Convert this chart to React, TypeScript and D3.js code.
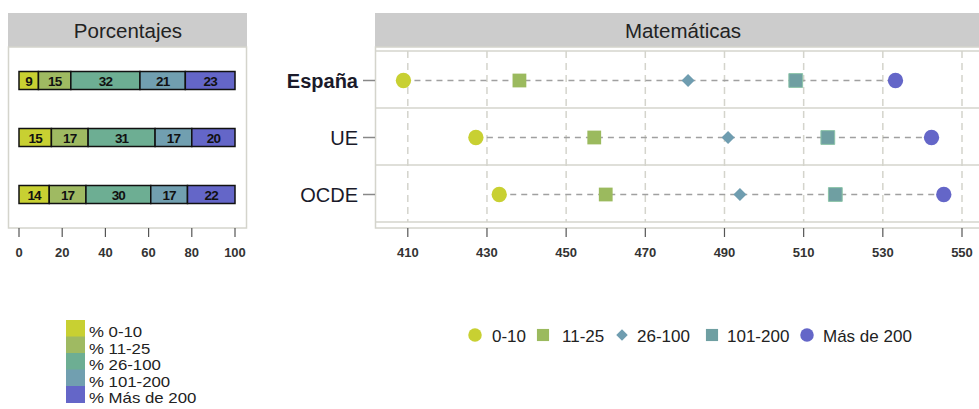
import React from 'react';
import { scaleLinear, scaleBand, symbol, symbolCircle, symbolSquare } from 'd3';

const regions = ['España', 'UE', 'OCDE'];
const groups = ['0-10', '11-25', '26-100', '101-200', 'Más de 200'];
const pctLegend = ['% 0-10', '% 11-25', '% 26-100', '% 101-200', '% Más de 200'];
const barColors = ['#C8D032', '#9FBA62', '#6DAE93', '#719FB0', '#6466C8'];
const dotColors = ['#C8D032', '#9BBA5E', '#6F9DB0', '#6F9FA2', '#6466C8'];

const pctEspana = [9, 15, 32, 21, 23];
const pctUE = [15, 17, 31, 17, 20];
const pctOCDE = [14, 17, 30, 17, 22];

const scoreEspana = [408.9, 438.2, 480.8, 508.0, 533.2];
const scoreUE = [427.2, 457.1, 490.9, 516.1, 542.3];
const scoreOCDE = [433.1, 460.0, 493.9, 518.0, 545.4];

const pctTicks = [0, 20, 40, 60, 80, 100];
const scoreTicks = [410, 430, 450, 470, 490, 510, 530, 550];

const pctRows = [pctEspana, pctUE, pctOCDE];
const scoreRows = [scoreEspana, scoreUE, scoreOCDE];

const FONT = 'Arial, "Liberation Sans", sans-serif';

// rhombus like R's pch 18 (a square turned 45 degrees)
const diamond = (h: number) => `M0,${-h}L${h},0L0,${h}L${-h},0Z`;

const shapeFor = (i: number, k = 1) => {
  if (i === 2) return diamond(6.5 * k);
  if (i === 1 || i === 3) return symbol(symbolSquare, 190 * k * k)()!;
  return symbol(symbolCircle, 185 * k * k)()!;
};

const App = () => {
  const width = 979;
  const height = 409;

  // left panel
  const lx = scaleLinear().domain([0, 100]).range([19, 235]);
  const rowY = scaleBand().domain(regions).range([51, 222]);
  const barH = 18;

  // right panel
  const rx = scaleLinear().domain([410, 550]).range([407.8, 962]);
  const rLeft = 375;
  const rRight = 992;

  return (
    <svg width={width} height={height} style={{ position: 'absolute', left: 0, top: 0 }} fontFamily={FONT}>
      <rect x={0} y={0} width={width} height={height} fill="#fff" />

      {/* Porcentajes */}
      <rect x={8} y={13} width={239} height={34} fill="#CCCCCC" />
      <text x={128} y={38} textAnchor="middle" fontSize={20.5} fill="#222">Porcentajes</text>
      <rect x={8.5} y={47} width={238} height={181} fill="none" stroke="#D4D4CC" strokeWidth={1.5} />
      {pctRows.map((row, r) => {
        const cy = rowY(regions[r])! + rowY.bandwidth() / 2 + 1;
        let acc = 0;
        return (
          <g key={r}>
            {row.map((v, i) => {
              const x0 = lx(acc);
              const x1 = lx(acc + v);
              acc += v;
              return (
                <g key={i}>
                  <rect x={x0} y={cy - barH / 2} width={x1 - x0} height={barH}
                    fill={barColors[i]} stroke="#111" strokeWidth={1.5} />
                  <text x={(x0 + x1) / 2} y={cy + 5} textAnchor="middle" fontSize={13.5}
                    fontWeight="bold" fill="#111" letterSpacing={-0.8}>{v}</text>
                </g>
              );
            })}
          </g>
        );
      })}
      {pctTicks.map(t => (
        <g key={t}>
          <line x1={lx(t)} x2={lx(t)} y1={228} y2={237} stroke="#555" strokeWidth={1.2} />
          <text x={lx(t)} y={257} textAnchor="middle" fontSize={13} fontWeight="bold" fill="#333">{t}</text>
        </g>
      ))}

      {/* Matemáticas */}
      <rect x={rLeft} y={13} width={rRight - rLeft} height={34} fill="#CCCCCC" />
      <text x={683} y={38} textAnchor="middle" fontSize={20.5} fill="#222">Matemáticas</text>
      <rect x={rLeft + 0.5} y={47} width={rRight - rLeft} height={181} fill="none" stroke="#D4D4CC" strokeWidth={1.5} />
      {[51, rowY('UE')!, rowY('OCDE')!, 222].map((y, i) => (
        <line key={i} x1={rLeft} x2={rRight} y1={y} y2={y} stroke="#D4D4CC" strokeWidth={1.5} />
      ))}
      {scoreTicks.map(t => (
        <g key={t}>
          <line x1={rx(t)} x2={rx(t)} y1={51} y2={222} stroke="#D4D4CC" strokeWidth={1.5} strokeDasharray="7,5" />
          <line x1={rx(t)} x2={rx(t)} y1={228} y2={237} stroke="#555" strokeWidth={1.2} />
          <text x={rx(t)} y={257} textAnchor="middle" fontSize={13} fontWeight="bold" fill="#333">{t}</text>
        </g>
      ))}
      {scoreRows.map((row, r) => {
        const cy = rowY(regions[r])! + rowY.bandwidth() / 2 + 1;
        return (
          <g key={r}>
            <line x1={363} x2={rLeft} y1={cy} y2={cy} stroke="#888" strokeWidth={1.5} />
            <text x={358} y={cy + 7} textAnchor="end" fontSize={20}
              fontWeight={r === 0 ? 'bold' : 'normal'} fill="#1a1a2a">{regions[r]}</text>
            <line x1={rx(row[0])} x2={rx(row[row.length - 1])} y1={cy} y2={cy}
              stroke="#A0A0A0" strokeWidth={1.5} strokeDasharray="6,5" />
            {row.map((v, i) => (
              <path key={i} d={shapeFor(i)} transform={`translate(${rx(v)},${cy})`}
                fill={dotColors[i]} stroke={i === 3 ? '#8CC4A8' : 'none'} strokeWidth={1} />
            ))}
          </g>
        );
      })}

      {/* legends */}
      {pctLegend.map((lab, i) => (
        <g key={lab}>
          <rect x={66} y={320 + i * 16.5} width={19} height={17} fill={barColors[i]} />
          <text transform={`translate(89,${337 + i * 16.5}) scale(1.2,1)`} fontSize={14} fill="#222">{lab}</text>
        </g>
      ))}
      {groups.map((g, i) => {
        const sx = [475, 543, 622, 712, 807][i];
        const tx = [492, 562, 637, 727, 823][i];
        return (
          <g key={g}>
            <path d={shapeFor(i, 0.88)} transform={`translate(${sx},${335})`} fill={dotColors[i]} />
            <text x={tx} y={341.5} fontSize={17} fill="#222">{g}</text>
          </g>
        );
      })}
    </svg>
  );
};

export default App;
